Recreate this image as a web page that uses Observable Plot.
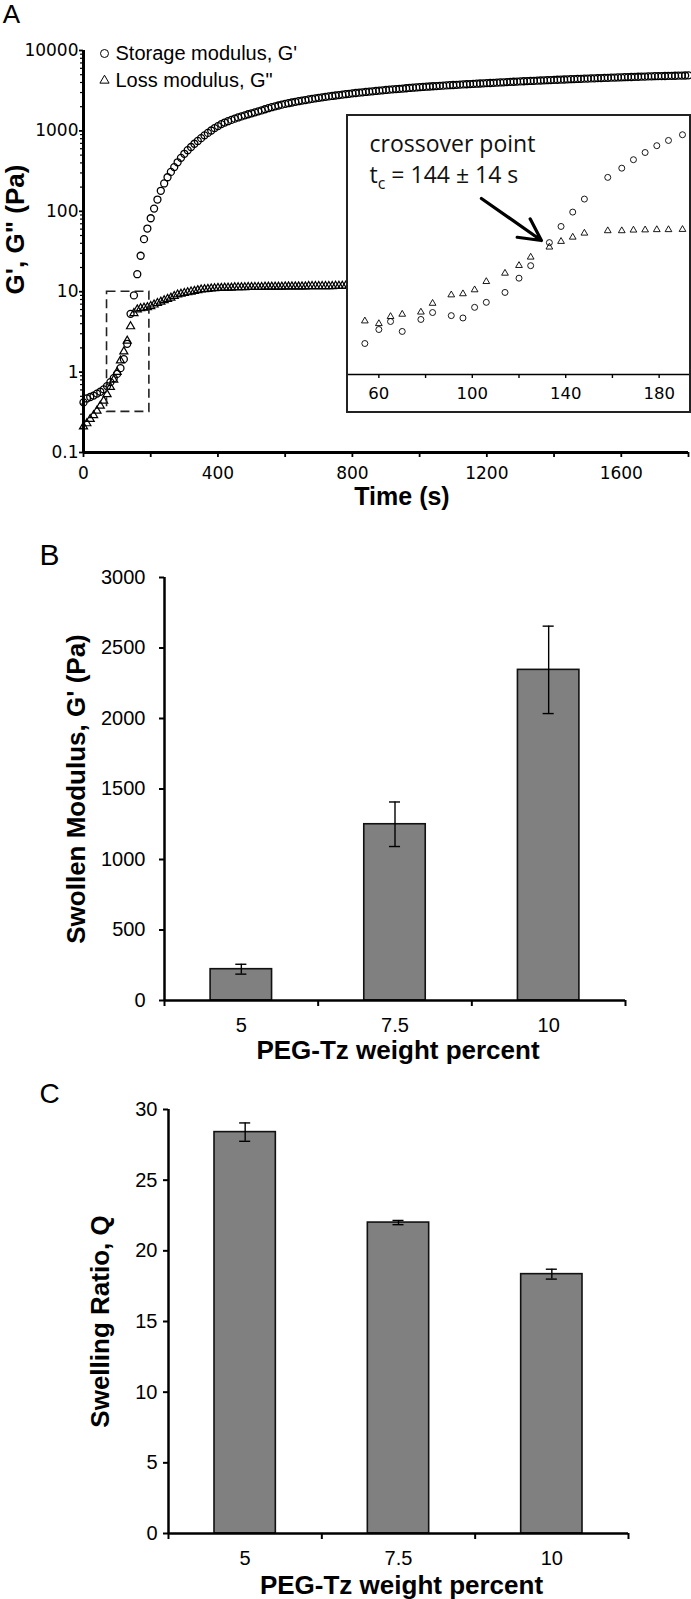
<!DOCTYPE html>
<html><head><meta charset="utf-8">
<script src="https://cdn.jsdelivr.net/npm/d3@7"></script>
<script src="https://cdn.jsdelivr.net/npm/@observablehq/plot@0.6"></script>
<style>
html,body{margin:0;padding:0;background:#fff;}
#fig{position:relative;width:691px;height:1599px;overflow:hidden;background:#fff;}
#fig > div{position:absolute;}
#fig svg{display:block;}
#inset{border:2px solid #222;background:#fff;}
</style></head><body><div id="fig"><div id="pA" style="left:0;top:0"></div><div id="inset" style="left:346px;top:114px"></div><div id="pB" style="left:0;top:520px"></div><div id="pC" style="left:0;top:1070px"></div></div>
<script>
// ---------- Panel A: time sweep (s) ----------
const time = [
0,10,20,30,40,50,60,70,80,90,100,
110,120,130,140,150,160,170,180,190,200,
210,220,230,240,250,260,270,280,290,300,
310,320,330,340,350,360,370,380,390,400,
410,420,430,440,450,460,470,480,490,500,
510,520,530,540,550,560,570,580,590,600,
610,620,630,640,650,660,670,680,690,700,
710,720,730,740,750,760,770,780,790,800,
810,820,830,840,850,860,870,880,890,900,
910,920,930,940,950,960,970,980,990,1000,
1010,1020,1030,1040,1050,1060,1070,1080,1090,1100,
1110,1120,1130,1140,1150,1160,1170,1180,1190,1200,
1210,1220,1230,1240,1250,1260,1270,1280,1290,1300,
1310,1320,1330,1340,1350,1360,1370,1380,1390,1400,
1410,1420,1430,1440,1450,1460,1470,1480,1490,1500,
1510,1520,1530,1540,1550,1560,1570,1580,1590,1600,
1610,1620,1630,1640,1650,1660,1670,1680,1690,1700,
1710,1720,1730,1740,1750,1760,1770,1780,1790,1800];
// Storage modulus G' (Pa)
const storageG = [
0.42,0.47,0.49,0.51,0.54,0.57,0.61,0.67,0.75,0.84,0.95,
1.12,1.45,2.25,5.3,9.0,16.5,28,45,61,82,
108,140,180,222,265,309,355,407,462,519,
575,631,692,750,813,881,944,1012,1084,1148,
1216,1270,1320,1370,1420,1470,1515,1560,1610,1655,
1700,1750,1800,1860,1915,1970,2020,2070,2120,2165,
2210,2255,2300,2340,2380,2420,2460,2500,2540,2580,
2615,2650,2685,2720,2755,2790,2825,2860,2895,2930,
2960,2990,3020,3050,3080,3110,3140,3170,3200,3230,
3260,3285,3310,3340,3365,3390,3420,3445,3470,3495,
3520,3545,3565,3590,3610,3635,3655,3680,3700,3725,
3745,3765,3785,3805,3825,3845,3865,3885,3905,3925,
3945,3965,3985,4005,4025,4045,4065,4085,4105,4125,
4145,4163,4181,4199,4217,4235,4253,4271,4289,4307,
4325,4342,4359,4376,4393,4410,4427,4444,4461,4478,
4494,4510,4526,4542,4558,4574,4590,4606,4622,4638,
4653,4668,4683,4698,4713,4728,4743,4758,4773,4788,
4799,4810,4821,4832,4843,4854,4865,4876,4887,4898];
// Loss modulus G" (Pa) - visible part (hidden behind the inset afterwards)
const lossG = [
0.21,0.23,0.26,0.29,0.33,0.38,0.44,0.53,0.65,0.80,1.0,
1.39,1.8,2.45,3.7,5.4,6.0,6.2,6.3,6.4,6.6,
6.9,7.2,7.5,7.8,8.1,8.4,8.8,9.2,9.4,9.6,
9.8,10.0,10.2,10.4,10.6,10.7,10.8,10.9,11.0,11.1,
11.1,11.2,11.2,11.2,11.3,11.3,11.3,11.3,11.4,11.4,
11.4,11.4,11.4,11.5,11.5,11.5,11.5,11.5,11.5,11.6,
11.6,11.6,11.6,11.6,11.6,11.6,11.7,11.7,11.7,11.7,
11.7,11.7,11.7,11.7,11.8,11.8,11.8,11.8,11.8,11.8];
const legendLabels = ["Storage modulus, G'", "Loss modulus, G\""];
const yTicksA = [0.1, 1, 10, 100, 1000, 10000];
const xTicksA = [0,200,400,600,800,1000,1200,1400,1600,1800];
// dashed zoom region (time s, modulus Pa)
const zoomBox = [{t1: 70, t2: 196, g1: 0.32, g2: 10}];

// ---------- Inset ----------
const insetTime = [54,60,65,70,78,83,91,96,101,106,114,120,125,133,138,143,148,158,164,169,174,179,184,190];
const insetStorage = [0.50,0.69,0.83,0.66,0.87,1.02,0.95,0.90,1.15,1.29,1.62,2.25,3.0,5.1,7.4,10.3,13.9,22.9,28.3,34.4,40.6,47.5,53.6,61.1];
const insetLoss = [0.84,0.79,0.93,0.98,1.03,1.26,1.53,1.57,1.72,2.08,2.52,3.01,3.65,4.6,5.24,5.78,6.34,6.7,6.7,6.8,6.83,6.87,6.87,6.9];
const insetTicks = [60,80,100,120,140,160,180];
const insetNotes = [{t: 56, g: 41.5, text: "crossover point"}, {t: 56, g: 20.0, text: "tc = 144 ± 14 s"}];
const insetArrow = [{t1: 103.9, g1: 14.1, t2: 129.6, g2: 5.36}];

// ---------- Panels B and C ----------
const categories = ["5", "7.5", "10"];
const swollenModulus = [222, 1250, 2345];
const swollenModulusErr = [35, 158, 310];
const swellingRatio = [28.4, 22.0, 18.35];
const swellingRatioErr = [0.65, 0.15, 0.35];
const yTicksB = [0, 500, 1000, 1500, 2000, 2500, 3000];
const yTicksC = [0, 5, 10, 15, 20, 25, 30];

const SANS = "Liberation Sans, Arial, Helvetica, sans-serif";
const WIDE = "DejaVu Sans, sans-serif";

// ================= Panel A =================
const storageRows = time.map((t, i) => ({t, g: storageG[i]}));
const lossRows = lossG.map((g, i) => ({t: time[i], g}));
const yMinorA = [0.1, 1, 10, 100, 1000].flatMap(d => [2,3,4,5,6,7,8,9].map(k => k * d));

const plotA = Plot.plot({
  width: 691, height: 520,
  marginLeft: 83, marginRight: 3, marginTop: 50, marginBottom: 68,
  style: {fontFamily: WIDE, fontSize: "17px", background: "#fff", color: "#000", overflow: "visible"},
  x: {domain: [0, 1800], label: null},
  y: {type: "log", domain: [0.1, 10000], label: null},
  marks: [
    Plot.dot(lossRows, {x: "t", y: "g", symbol: "triangle", r: 3, stroke: "#000", strokeWidth: 1.2, fill: "none"}),
    Plot.dot(storageRows, {x: "t", y: "g", symbol: "circle", r: 3.5, stroke: "#000", strokeWidth: 1.3, fill: "none"}),
    Plot.rect(zoomBox, {x1: "t1", x2: "t2", y1: "g1", y2: "g2", fill: "none", stroke: "#222", strokeWidth: 1.6, strokeDasharray: "9,5"}),
    Plot.axisY({ticks: yMinorA, tickSize: 3, tickFormat: () => "", strokeWidth: 1.2}),
    Plot.axisY({ticks: yTicksA, tickSize: 4, tickPadding: 1, tickFormat: d => String(d), strokeWidth: 1.8}),
    Plot.axisX({ticks: xTicksA, tickSize: 5, tickPadding: 9, tickFormat: d => d % 400 === 0 ? String(d) : "", strokeWidth: 1.8}),
    Plot.ruleX([0], {stroke: "#000", strokeWidth: 3}),
    Plot.ruleY([0.1], {stroke: "#000", strokeWidth: 3}),
    Plot.dot([0], {frameAnchor: "top-left", dx: 21, dy: 3, symbol: "circle", r: 4, stroke: "#000", strokeWidth: 1, fill: "none"}),
    Plot.dot([0], {frameAnchor: "top-left", dx: 21, dy: 30, symbol: "triangle", r: 3.4, stroke: "#000", strokeWidth: 1, fill: "none"}),
    Plot.text([legendLabels[0]], {frameAnchor: "top-left", dx: 32, dy: 3, textAnchor: "start", lineAnchor: "middle", fontFamily: SANS, fontSize: 20}),
    Plot.text([legendLabels[1]], {frameAnchor: "top-left", dx: 32, dy: 30, textAnchor: "start", lineAnchor: "middle", fontFamily: SANS, fontSize: 20}),
    Plot.text(["A"], {frameAnchor: "top-left", dx: -72, dy: -36, textAnchor: "middle", lineAnchor: "middle", fontFamily: SANS, fontSize: 26}),
    Plot.text(["G', G\" (Pa)"], {frameAnchor: "left", dx: -68, dy: -22, rotate: -90, textAnchor: "middle", lineAnchor: "middle", fontFamily: SANS, fontSize: 26, fontWeight: "bold"}),
    Plot.text(["Time (s)"], {frameAnchor: "bottom", dx: 16, dy: 44, textAnchor: "middle", lineAnchor: "middle", fontFamily: SANS, fontSize: 25, fontWeight: "bold"})
  ]
});
document.getElementById("pA").appendChild(plotA);

// ================= Inset =================
const insetStorageRows = insetTime.map((t, i) => ({t, g: insetStorage[i]}));
const insetLossRows = insetTime.map((t, i) => ({t, g: insetLoss[i]}));
const plotInset = Plot.plot({
  width: 341, height: 295,
  marginLeft: 0, marginRight: 0, marginTop: 0, marginBottom: 37,
  style: {fontFamily: WIDE, fontSize: "16.5px", background: "#fff", color: "#000", overflow: "visible"},
  x: {domain: [47, 193], label: null},
  y: {type: "log", domain: [0.245, 93], label: null, axis: null},
  marks: [
    Plot.ruleY([0.245], {stroke: "#000", strokeWidth: 1.6}),
    Plot.axisX({ticks: insetTicks, tickSize: 4, tickPadding: 9, tickFormat: d => d % 40 === 20 ? String(d) : "", strokeWidth: 1.4}),
    Plot.dot(insetLossRows, {x: "t", y: "g", symbol: "triangle", r: 2.5, stroke: "#000", strokeWidth: 0.9, fill: "none"}),
    Plot.dot(insetStorageRows, {x: "t", y: "g", symbol: "circle", r: 3, stroke: "#000", strokeWidth: 0.9, fill: "none"}),
    Plot.text(insetNotes, {x: "t", y: "g", text: "text", textAnchor: "start", lineAnchor: "bottom", fontFamily: "Open Sans, Noto Sans, sans-serif", fontSize: 23, fill: "#111"}),
    Plot.arrow(insetArrow, {x1: "t1", y1: "g1", x2: "t2", y2: "g2", stroke: "#000", strokeWidth: 3.2, headLength: 13, headAngle: 55})
  ]
});
document.getElementById("inset").appendChild(plotInset);
d3.select(plotInset).selectAll("text").each(function() {
  if (this.textContent === "tc = 144 ± 14 s") {
    const el = d3.select(this);
    el.text(null);
    el.append("tspan").text("t");
    el.append("tspan").attr("dy", 6).attr("font-size", 16).text("c");
    el.append("tspan").attr("dy", -6).text(" = 144 ± 14 s");
  }
});

// ================= Bar panels =================
function barPanel(opts) {
  const rows = categories.map((c, i) => ({i, c, v: opts.values[i], e: opts.errors[i]}));
  const ymax = opts.yTicks[opts.yTicks.length - 1];
  return Plot.plot({
    width: 691, height: opts.height,
    marginLeft: opts.ml, marginRight: opts.mr, marginTop: opts.mt, marginBottom: opts.mb,
    style: {fontFamily: SANS, fontSize: "20px", background: "#fff", color: "#000", overflow: "visible"},
    x: {domain: [0, categories.length], label: null, axis: null},
    y: {domain: [0, ymax], label: null, axis: null},
    marks: [
      Plot.rect(rows, {x1: d => d.i + 0.3, x2: d => d.i + 0.7, y1: 0, y2: "v", fill: "#808080", stroke: "#111", strokeWidth: 1.6}),
      Plot.ruleX(rows, {x: d => d.i + 0.5, y1: d => d.v - d.e, y2: d => d.v + d.e, stroke: "#000", strokeWidth: 1.4}),
      Plot.ruleY(rows, {y: d => d.v + d.e, x1: d => d.i + 0.5 - 0.036, x2: d => d.i + 0.5 + 0.036, stroke: "#000", strokeWidth: 1.4}),
      Plot.ruleY(rows, {y: d => d.v - d.e, x1: d => d.i + 0.5 - 0.036, x2: d => d.i + 0.5 + 0.036, stroke: "#000", strokeWidth: 1.4}),
      Plot.axisY({ticks: opts.yTicks, tickSize: 5, tickPadding: opts.ypad, tickFormat: d => String(d), strokeWidth: 2}),
      Plot.axisX({ticks: [0, 1, 2, 3], tickSize: 6, tickFormat: () => "", strokeWidth: 2}),
      Plot.axisX({ticks: [0.5, 1.5, 2.5], tickSize: 0, tickPadding: 17, tickFormat: d => categories[Math.floor(d)]}),
      Plot.ruleX([0], {y1: 0, y2: ymax, stroke: "#000", strokeWidth: 2.5}),
      Plot.ruleY([0], {x1: 0, x2: categories.length, stroke: "#000", strokeWidth: 2.5}),
      Plot.text([opts.letter], {frameAnchor: "top-left", dx: opts.letterDx, dy: opts.letterDy, textAnchor: "middle", lineAnchor: "middle", fontSize: opts.letterSize, fontFamily: SANS}),
      Plot.text([opts.ylabel], {frameAnchor: "left", dx: opts.ylabDx, rotate: -90, textAnchor: "middle", lineAnchor: "middle", fontSize: 26, fontWeight: "bold", fontFamily: SANS}),
      Plot.text(["PEG-Tz weight percent"], {frameAnchor: "bottom", dx: 3, dy: opts.xlabDy, textAnchor: "middle", lineAnchor: "middle", fontSize: 26, fontWeight: "bold", fontFamily: SANS})
    ]
  });
}

document.getElementById("pB").appendChild(barPanel({
  height: 550, ml: 164, mr: 66, mt: 57, mb: 70, ypad: 14,
  values: swollenModulus, errors: swollenModulusErr, yTicks: yTicksB,
  letter: "B", letterDx: -115, letterDy: -22, letterSize: 30,
  ylabel: "Swollen Modulus, G' (Pa)", ylabDx: -88, xlabDy: 50
}));
document.getElementById("pC").appendChild(barPanel({
  height: 529, ml: 168, mr: 63, mt: 39, mb: 66, ypad: 6,
  values: swellingRatio, errors: swellingRatioErr, yTicks: yTicksC,
  letter: "C", letterDx: -119, letterDy: -15, letterSize: 28,
  ylabel: "Swelling Ratio, Q", ylabDx: -68, xlabDy: 52
}));
</script></body></html>
